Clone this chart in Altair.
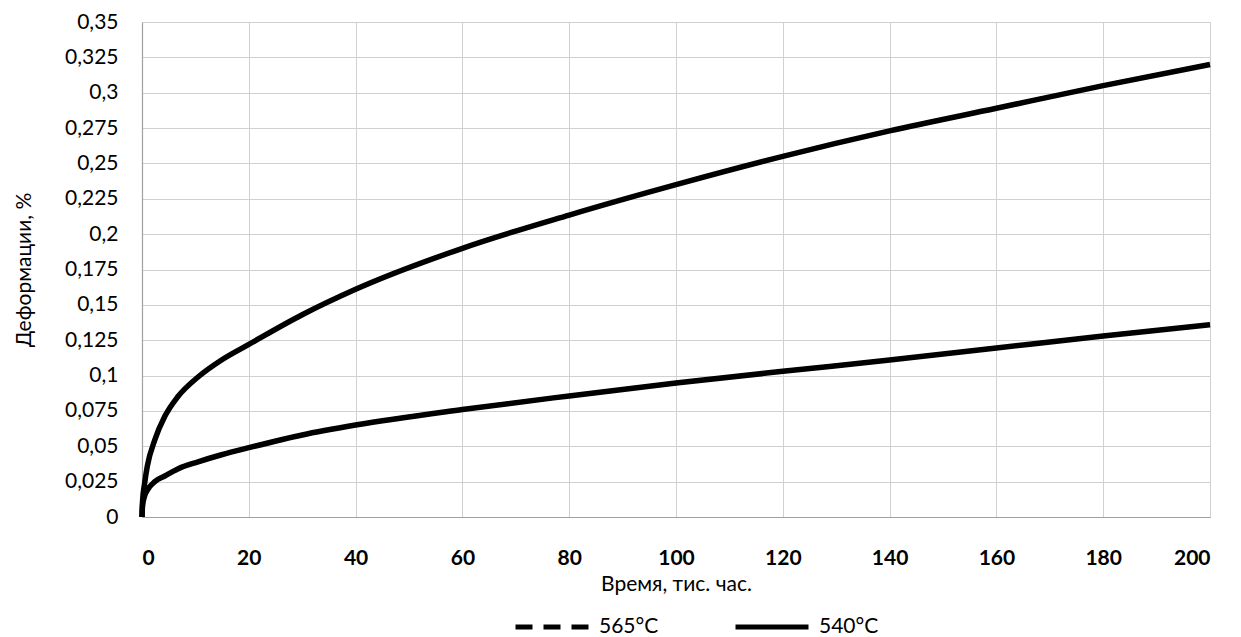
import altair as alt
import pandas as pd

time_k = [0, 0.1, 0.5, 1, 2.4, 4.25, 6.7, 10.5, 14.9, 20, 30, 40, 60, 80, 100, 120, 140, 160, 180, 200]
deform_565 = [0, 0.011, 0.024, 0.036, 0.0545, 0.071, 0.085, 0.099, 0.111, 0.122, 0.143, 0.161,
              0.19, 0.2135, 0.235, 0.255, 0.273, 0.289, 0.305, 0.32]
deform_540 = [0, 0.008, 0.015, 0.019, 0.025, 0.029, 0.034, 0.039, 0.044, 0.049, 0.058, 0.065,
              0.076, 0.0856, 0.0947, 0.103, 0.111, 0.1195, 0.128, 0.136]
series_names = ["565°C", "540°C"]
x_ticks = [0, 20, 40, 60, 80, 100, 120, 140, 160, 180, 200]
y_ticks = [0, 0.025, 0.05, 0.075, 0.1, 0.125, 0.15, 0.175, 0.2, 0.225, 0.25, 0.275, 0.3, 0.325, 0.35]

rows = []
for name, vals in zip(series_names, [deform_565, deform_540]):
    for t, v in zip(time_k, vals):
        rows.append({"t": t, "v": v, "series": name})
df = pd.DataFrame(rows)

FONT = "Lato"

x_enc = alt.X("t:Q", scale=alt.Scale(domain=[0, 200], nice=False),
              axis=alt.Axis(values=x_ticks, tickCount=30, title="Время, тис. час.", ticks=False,
                            labelPadding=30, labelFontWeight="bold", labelOverlap=False,
                            labelFont=FONT, labelFontSize=21, labelColor="black",
                            titleFont=FONT, titleFontSize=21, titleColor="black",
                            titleX=534, titleY=67, titleBaseline="middle",
                            titleFontWeight="normal",
                            gridColor="#d0d0d0", gridWidth=1,
                            domainColor="#a0a0a0", domainWidth=1.2))
y_enc = alt.Y("v:Q", scale=alt.Scale(domain=[0, 0.35], nice=False),
              axis=alt.Axis(values=y_ticks, tickCount=30, title="Деформации, %", ticks=False,
                            format=".3~f", labelExpr="replace(datum.label, '.', ',')",
                            labelOverlap=False,
                            labelFont=FONT, labelFontSize=21, labelColor="black",
                            titleFont=FONT, titleFontSize=21, titleColor="black",
                            labelPadding=24, titleX=-118, titleY=247.5,
                            titleAngle=-90, titleBaseline="middle", titleAlign="center",
                            titleFontWeight="normal",
                            gridColor="#d0d0d0", gridWidth=1,
                            domainColor="#a0a0a0", domainWidth=1.2))

# dashed/solid layer (gives the legend); covered by the solid curves drawn above it
legend_layer = alt.Chart(df).mark_line(color="black", strokeWidth=4, interpolate="monotone").encode(
    x=x_enc, y=y_enc,
    strokeDash=alt.StrokeDash(
        "series:N",
        scale=alt.Scale(domain=series_names, range=[[17, 11], [1, 0]]),
        sort=series_names,
        legend=alt.Legend(title=None, orient="none", legendX=371, legendY=566,
                          direction="horizontal", columns=2, symbolType="stroke",
                          symbolSize=5329, symbolStrokeWidth=5, symbolStrokeColor="black",
                          labelOffset=8, columnPadding=66, padding=0,
                          labelFontSize=21, labelFont=FONT, labelColor="black"),
    ),
)

lines = alt.Chart(df).mark_line(color="black", strokeWidth=5.5, interpolate="monotone").encode(
    x="t:Q", y="v:Q", detail="series:N"
)

chart = alt.layer(legend_layer, lines).properties(
    width=1068, height=495,
    autosize=alt.AutoSizeParams(type="none"),
    padding={"left": 134, "top": 14, "right": 20, "bottom": 122},
    background="white",
).configure_view(stroke=None)

chart.save("out.html", embed_options={"renderer": "svg", "actions": False})
